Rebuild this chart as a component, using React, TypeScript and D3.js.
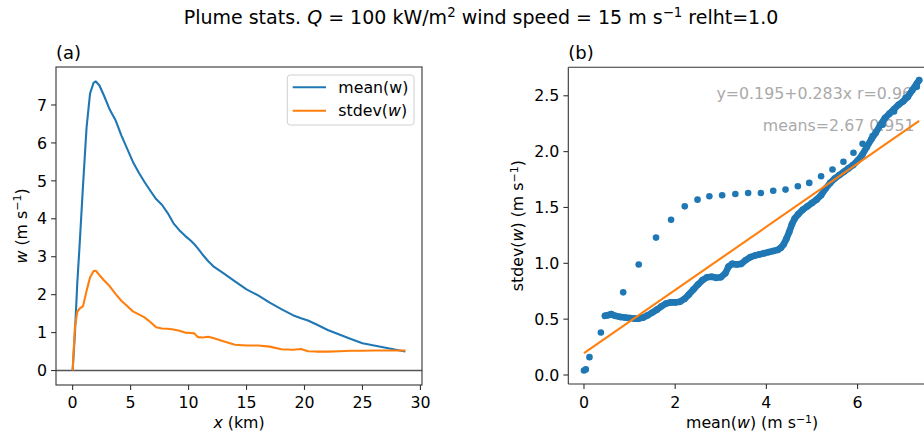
import React from 'react';
import * as d3 from 'd3';

// panel (a): distance along plume (km) and the two profiles
const DIST_KM = [0, 0.2, 0.4, 0.6, 0.9, 1.2, 1.5, 1.8, 2.0, 2.3, 2.7, 3.2, 3.7, 4.2, 4.7, 5.2, 5.7, 6.2, 6.7, 7.2, 7.7, 8.2, 8.7, 9.2, 9.7, 10.2, 10.5, 10.8, 11.2, 11.7, 12.2, 13, 14, 15, 16, 17, 18, 19, 19.7, 20.3, 21, 22, 23, 24, 25, 26, 27, 28, 28.7];
const MEAN_W = [0, 1.0, 2.3, 3.3, 4.9, 6.4, 7.3, 7.58, 7.62, 7.52, 7.25, 6.88, 6.6, 6.2, 5.85, 5.5, 5.22, 4.97, 4.74, 4.52, 4.37, 4.15, 3.88, 3.7, 3.55, 3.42, 3.33, 3.22, 3.06, 2.88, 2.73, 2.57, 2.35, 2.14, 1.98, 1.79, 1.62, 1.46, 1.38, 1.32, 1.22, 1.07, 0.95, 0.83, 0.72, 0.66, 0.6, 0.54, 0.5];
const STDEV_W = [0, 1.15, 1.55, 1.63, 1.7, 2.1, 2.45, 2.62, 2.63, 2.52, 2.38, 2.22, 2.02, 1.84, 1.7, 1.56, 1.48, 1.4, 1.28, 1.14, 1.11, 1.1, 1.08, 1.05, 1.0, 0.99, 0.98, 0.88, 0.87, 0.89, 0.85, 0.77, 0.68, 0.66, 0.66, 0.63, 0.56, 0.55, 0.57, 0.51, 0.5, 0.5, 0.51, 0.52, 0.52, 0.53, 0.53, 0.53, 0.53];

// panel (b): scatter of mean(w) vs stdev(w)
const RISE_MEAN = [0.0, 0.04, 0.12, 0.37, 0.86, 1.2, 1.58, 1.91, 2.21, 2.49, 2.75, 3.03, 3.32, 3.6, 3.88, 4.15, 4.42, 4.69, 4.94, 5.2, 5.45, 5.69, 5.91, 6.11, 6.33, 6.55, 6.8, 7.05, 7.3];
const RISE_STDEV = [0.04, 0.05, 0.16, 0.38, 0.74, 0.99, 1.23, 1.39, 1.51, 1.57, 1.6, 1.61, 1.62, 1.63, 1.63, 1.65, 1.66, 1.69, 1.72, 1.78, 1.84, 1.91, 1.99, 2.07, 2.14, 2.24, 2.36, 2.48, 2.58];
const DECAY_MEAN = [0.46, 0.52, 0.6, 0.68, 0.8, 0.9, 1.0, 1.1, 1.2, 1.3, 1.4, 1.5, 1.6, 1.7, 1.8, 1.9, 2.0, 2.1, 2.2, 2.3, 2.4, 2.5, 2.6, 2.7, 2.8, 2.9, 3.0, 3.1, 3.17, 3.25, 3.35, 3.45, 3.55, 3.65, 3.75, 3.85, 3.95, 4.05, 4.15, 4.25, 4.32, 4.38, 4.44, 4.5, 4.56, 4.62, 4.7, 4.8, 4.9, 5.0, 5.1, 5.2, 5.3, 5.4, 5.5, 5.6, 5.7, 5.8, 5.9, 6.0, 6.1, 6.2, 6.3, 6.4, 6.5, 6.6, 6.7, 6.8, 6.9, 7.0, 7.1, 7.2, 7.3, 7.35];
const DECAY_STDEV = [0.53, 0.535, 0.545, 0.53, 0.52, 0.515, 0.51, 0.505, 0.505, 0.515, 0.535, 0.56, 0.585, 0.615, 0.64, 0.65, 0.65, 0.655, 0.68, 0.72, 0.765, 0.81, 0.85, 0.875, 0.88, 0.87, 0.875, 0.91, 0.97, 0.995, 0.99, 0.995, 1.03, 1.055, 1.07, 1.08, 1.09, 1.1, 1.11, 1.12, 1.14, 1.17, 1.22, 1.28, 1.35, 1.4, 1.44, 1.48, 1.51, 1.54, 1.57, 1.61, 1.67, 1.72, 1.76, 1.79, 1.82, 1.85, 1.88, 1.92, 1.97, 2.04, 2.11, 2.17, 2.24, 2.3, 2.34, 2.38, 2.42, 2.45, 2.49, 2.55, 2.61, 2.64];
const FIT_A = 0.195;
const FIT_B = 0.283;
const FIT_X = [0, 7.35];

const A_X_TICKS = [0, 5, 10, 15, 20, 25, 30];
const A_Y_TICKS = [0, 1, 2, 3, 4, 5, 6, 7];
const B_X_TICKS = [0, 2, 4, 6];
const B_Y_TICKS = [0, 0.5, 1.0, 1.5, 2.0, 2.5];

const BLUE = '#1f77b4';
const ORANGE = '#ff7f0e';
const FONT = 'DejaVu Sans';
const FS = 15.8;
const SUP = 11;
const SPINE = '#333';

export default function App() {
  const W = 924, H = 435;

  const ax = { left: 56, right: 422, top: 67, bottom: 385 };
  const bx = { left: 568.3, right: 936, top: 67.3, bottom: 384 };

  const xa = d3.scaleLinear().domain([-1.435, 30.135]).range([ax.left, ax.right]);
  const ya = d3.scaleLinear().domain([-0.381, 8.001]).range([ax.bottom, ax.top]);
  const xb = d3.scaleLinear().domain([-0.344, 7.72]).range([bx.left, bx.right]);
  const yb = d3.scaleLinear().domain([-0.0806, 2.755]).range([bx.bottom, bx.top]);

  const lineA = (vals: number[]) =>
    d3.line<number>().x((_, i) => xa(DIST_KM[i])).y(d => ya(d))(vals) || '';

  const decayPath = d3.line<number>().x(d => xb(d)).y((_, i) => yb(DECAY_STDEV[i]))(DECAY_MEAN) || '';
  const fitPath = d3.line<number>().x(d => xb(d)).y(d => yb(FIT_A + FIT_B * d))(FIT_X) || '';

  const tick = 4.9;

  return (
    <svg width={W} height={H} style={{ position: 'absolute', left: 0, top: 0, background: '#fff' }}
      fontFamily={FONT}>
      {/* title */}
      <text x={481} y={24} textAnchor="middle" fontSize={19} fill="#000">
        Plume stats. <tspan fontStyle="italic">Q</tspan> = 100 kW/m<tspan dy={-7} fontSize={13.3}>2</tspan>
        <tspan dy={7}> wind speed = 15 m s</tspan><tspan dy={-7} fontSize={13.3}>−1</tspan>
        <tspan dy={7}> relht=1.0</tspan>
      </text>

      {/* ---------- panel (a) ---------- */}
      <text x={ax.left} y={59} fontSize={18} fill="#000">(a)</text>
      <line x1={ax.left} x2={ax.right} y1={ya(0)} y2={ya(0)} stroke="#555" strokeWidth={1.6} />
      <path d={lineA(MEAN_W)} fill="none" stroke={BLUE} strokeWidth={2.1} strokeLinejoin="round" />
      <path d={lineA(STDEV_W)} fill="none" stroke={ORANGE} strokeWidth={2.1} strokeLinejoin="round" />
      <rect x={ax.left} y={ax.top} width={ax.right - ax.left} height={ax.bottom - ax.top}
        fill="none" stroke={SPINE} strokeWidth={1.1} />
      {A_X_TICKS.map(t => (
        <g key={'ax' + t}>
          <line x1={xa(t)} x2={xa(t)} y1={ax.bottom} y2={ax.bottom + tick} stroke={SPINE} strokeWidth={1.1} />
          <text x={xa(t)} y={408} textAnchor="middle" fontSize={FS}>{t}</text>
        </g>
      ))}
      {A_Y_TICKS.map(t => (
        <g key={'ay' + t}>
          <line x1={ax.left - tick} x2={ax.left} y1={ya(t)} y2={ya(t)} stroke={SPINE} strokeWidth={1.1} />
          <text x={ax.left - 9} y={ya(t) + 5.7} textAnchor="end" fontSize={FS}>{t}</text>
        </g>
      ))}
      <text x={(ax.left + ax.right) / 2} y={428} textAnchor="middle" fontSize={FS}>
        <tspan fontStyle="italic">x</tspan> (km)
      </text>
      <text transform={`translate(26.5,${(ax.top + ax.bottom) / 2}) rotate(-90)`} textAnchor="middle" fontSize={FS}>
        <tspan fontStyle="italic">w</tspan> (m s<tspan dy={-5.5} fontSize={SUP}>−1</tspan><tspan dy={5.5}>)</tspan>
      </text>

      {/* legend */}
      <rect x={287.3} y={75} width={126.7} height={50} rx={3} fill="#fff" fillOpacity={0.8}
        stroke="#d0d0d0" strokeWidth={1} />
      <line x1={292.7} x2={326} y1={87.3} y2={87.3} stroke={BLUE} strokeWidth={2.1} />
      <text x={338.3} y={93} fontSize={FS}>mean(w)</text>
      <line x1={292.7} x2={326} y1={110.7} y2={110.7} stroke={ORANGE} strokeWidth={2.1} />
      <text x={338.3} y={116.4} fontSize={FS}>stdev(<tspan fontStyle="italic">w</tspan>)</text>

      {/* ---------- panel (b) ---------- */}
      <text x={bx.left} y={59} fontSize={18} fill="#000">(b)</text>
      <text x={912} y={99} textAnchor="end" fontSize={FS} fill="#aaa">y=0.195+0.283x r=0.96</text>
      <text x={914.5} y={131} textAnchor="end" fontSize={FS} fill="#aaa">means=2.67 0.951</text>

      <path d={decayPath} fill="none" stroke={BLUE} strokeWidth={6.6} strokeLinejoin="round" strokeLinecap="round" />
      {DECAY_MEAN.map((m, i) => (
        <circle key={'d' + i} cx={xb(m)} cy={yb(DECAY_STDEV[i])} r={3.3} fill={BLUE} />
      ))}
      {RISE_MEAN.map((m, i) => (
        <circle key={'r' + i} cx={xb(m)} cy={yb(RISE_STDEV[i])} r={3.3} fill={BLUE} />
      ))}
      <path d={fitPath} fill="none" stroke={ORANGE} strokeWidth={2.1} />

      <line x1={bx.left} x2={bx.right} y1={bx.top} y2={bx.top} stroke={SPINE} strokeWidth={1.1} />
      <line x1={bx.left} x2={bx.left} y1={bx.top} y2={bx.bottom} stroke={SPINE} strokeWidth={1.1} />
      <line x1={bx.left} x2={bx.right} y1={bx.bottom} y2={bx.bottom} stroke={SPINE} strokeWidth={1.1} />
      {B_X_TICKS.map(t => (
        <g key={'bx' + t}>
          <line x1={xb(t)} x2={xb(t)} y1={bx.bottom} y2={bx.bottom + tick} stroke={SPINE} strokeWidth={1.1} />
          <text x={xb(t)} y={408} textAnchor="middle" fontSize={FS}>{t}</text>
        </g>
      ))}
      {B_Y_TICKS.map(t => (
        <g key={'by' + t}>
          <line x1={bx.left - tick} x2={bx.left} y1={yb(t)} y2={yb(t)} stroke={SPINE} strokeWidth={1.1} />
          <text x={bx.left - 9} y={yb(t) + 5.7} textAnchor="end" fontSize={FS}>{t.toFixed(1)}</text>
        </g>
      ))}
      <text x={(bx.left + bx.right) / 2} y={428} textAnchor="middle" fontSize={FS}>
        mean(<tspan fontStyle="italic">w</tspan>) (m s<tspan dy={-5.5} fontSize={SUP}>−1</tspan><tspan dy={5.5}>)</tspan>
      </text>
      <text transform={`translate(523,${(bx.top + bx.bottom) / 2}) rotate(-90)`} textAnchor="middle" fontSize={FS}>
        stdev(<tspan fontStyle="italic">w</tspan>) (m s<tspan dy={-5.5} fontSize={SUP}>−1</tspan><tspan dy={5.5}>)</tspan>
      </text>
    </svg>
  );
}
